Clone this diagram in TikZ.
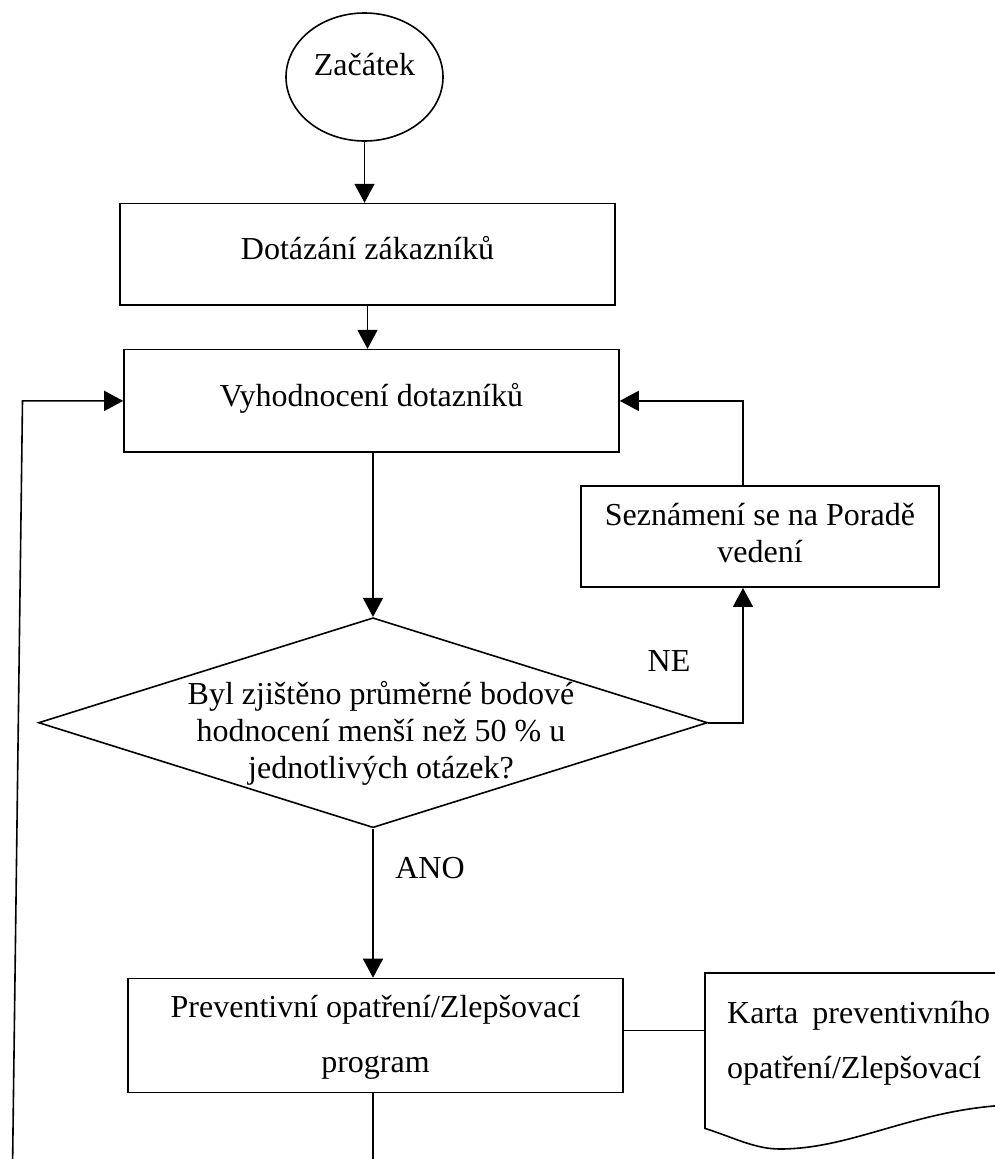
\documentclass[tikz,border=0pt]{standalone}
\usepackage{fontspec}
\setmainfont{Liberation Serif}
\usetikzlibrary{shapes.geometric,arrows.meta}
\newcommand\fs{\fontsize{32}{37}\selectfont}
\newcommand\tline{\rule{0pt}{24pt}}
\begin{document}
\begin{tikzpicture}[x=1pt,y=-1pt,
  every node/.style={font=\fs, inner sep=0pt},
  conn/.style={line width=1.6pt},
  arr/.style={line width=1.6pt,-{Triangle[length=19pt,width=20pt]}},
  proc/.style={draw,line width=1.6pt,rectangle,inner sep=0pt}]
\useasboundingbox (0,0) rectangle (995,1159);
% nodes
\node[draw,line width=1.6pt,ellipse,minimum width=157pt,minimum height=128pt,text height=22pt,text depth=24.4pt] (start) at (364.5,77) {Začátek};
\node[proc] (ask) at (367.5,254.4) {\parbox[c][101.7pt][t]{495pt}{\centering\vspace*{31.5pt}\tline Dotázání zákazníků}};
\node[proc] (eval) at (371.5,400.9) {\parbox[c][102.5pt][t]{495pt}{\centering\vspace*{32.6pt}\tline Vyhodnocení dotazníků}};
\node[proc] (meet) at (760,536.5) {\parbox[c][101.3pt][t]{358pt}{\centering\vspace*{15.5pt}\tline Seznámení se na Poradě\\vedení}};
\node[draw,line width=1.6pt,diamond,minimum width=669pt,minimum height=210pt] (dec) at (373,722.7) {};
\node[anchor=base] (dectext) at (381,704.8) {\parbox[t]{440pt}{\centering Byl zjištěno průměrné bodové\\hodnocení menší než 50 \% u\\jednotlivých otázek?}};
\node[proc] (prev) at (375.5,1035.5) {\parbox[c][114pt][t]{495pt}{\fontsize{32}{55.5}\selectfont\centering\vspace*{14.8pt}\tline Preventivní opatření/Zlepšovací\\program}};
\node[anchor=base west] (cardtext) at (727,1023) {\parbox[t]{268pt}{\fontsize{32}{55.5}\selectfont\raggedright\makebox[263pt][s]{Karta preventivního}\\opatření/Zlepšovací}};
\node[anchor=base] (ne) at (669,671.5) {NE};
\node[anchor=base] (ano) at (430,878.7) {ANO};
% document shape
\coordinate (cTR) at (1000,973);
\coordinate (cTL) at (705,973);
\coordinate (cBL) at (705,1128.4);
\coordinate (cBR) at (1000,1105.5);
\draw[conn] (cTR) -- (cTL) -- (cBL) .. controls (735,1138) and (755,1149) .. (780,1149) .. controls (850,1149) and (910,1112) .. (cBR);
% connectors
\coordinate (endA) at (373,1170);
\coordinate (loopB) at (12.5,1170);
\coordinate (loopT) at (22.5,400.9);
\draw[arr] (start.south) -- (start.south |- ask.north);
\draw[arr] (ask.south) -- (ask.south |- eval.north);
\draw[arr] (eval.south -| dec.north) -- (dec.north);
\draw[arr] (dec.east) -| ([xshift=-17pt]meet.south);
\draw[arr] ([xshift=-17pt]meet.north) |- (eval.east);
\draw[arr] (dec.south) -- (dec.south |- prev.north);
\draw[conn] (prev.south -| dec.south) -- (endA);
\draw[conn] ([yshift=5pt]prev.east) -- ([yshift=5pt]prev.east -| cTL);
\draw[arr] (loopB) -- (loopT) -- (eval.west);
\end{tikzpicture}
\end{document}
